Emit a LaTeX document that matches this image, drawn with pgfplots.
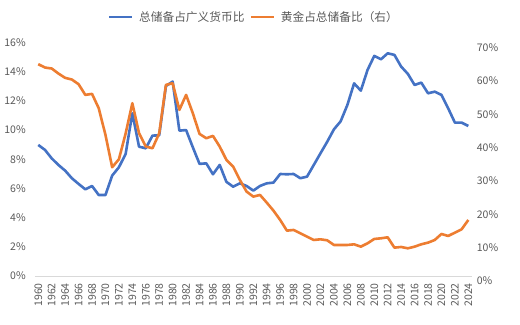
\documentclass[border=0pt]{standalone}
\usepackage{pgfplots}
\pgfplotsset{compat=1.18}
\usepackage{pgfplotstable}
\usepackage{fontspec}
\setmainfont{Noto Sans CJK SC}
\definecolor{cblue}{HTML}{4472C4}
\definecolor{corange}{HTML}{ED7D31}
\definecolor{ctext}{HTML}{595959}
\definecolor{cgrid}{HTML}{D9D9D9}

\pgfplotstableread{
year blue
1960 8.98
1961 8.64
1962 8.06
1963 7.61
1964 7.22
1965 6.70
1966 6.31
1967 5.94
1968 6.17
1969 5.55
1970 5.55
1971 6.88
1972 7.45
1973 8.36
1974 11.15
1975 8.86
1976 8.75
1977 9.62
1978 9.64
1979 13.02
1980 13.32
1981 9.96
1982 10.00
1983 8.82
1984 7.68
1985 7.72
1986 6.97
1987 7.61
1988 6.45
1989 6.12
1990 6.35
1991 6.17
1992 5.85
1993 6.17
1994 6.35
1995 6.40
1996 6.99
1997 6.97
1998 6.99
1999 6.70
2000 6.81
2001 7.61
2002 8.41
2003 9.20
2004 10.05
2005 10.60
2006 11.72
2007 13.20
2008 12.70
2009 14.12
2010 15.08
2011 14.85
2012 15.26
2013 15.15
2014 14.35
2015 13.85
2016 13.09
2017 13.25
2018 12.52
2019 12.63
2020 12.41
2021 11.49
2022 10.51
2023 10.51
2024 10.28
}\bluedata

\pgfplotstableread{
year gold
1960 63.5
1961 62.5
1962 62.2
1963 60.7
1964 59.4
1965 58.9
1966 57.5
1967 54.3
1968 54.6
1969 50.3
1970 42.3
1971 32.6
1972 35.0
1973 42.7
1974 51.8
1975 42.8
1976 38.8
1977 38.3
1978 42.8
1979 57.3
1980 57.8
1981 49.8
1982 54.3
1983 48.8
1984 42.6
1985 41.3
1986 42.0
1987 38.8
1988 34.8
1989 32.8
1990 28.8
1991 25.3
1992 23.8
1993 24.3
1994 22.0
1995 19.6
1996 16.8
1997 13.6
1998 13.8
1999 12.8
2000 11.8
2001 10.8
2002 11.0
2003 10.7
2004 9.3
2005 9.3
2006 9.3
2007 9.5
2008 8.8
2009 9.8
2010 11.1
2011 11.3
2012 11.6
2013 8.5
2014 8.7
2015 8.3
2016 8.8
2017 9.5
2018 10.0
2019 10.8
2020 12.6
2021 12.0
2022 13.0
2023 14.0
2024 16.8
}\golddata

\begin{document}
\begin{tikzpicture}
\useasboundingbox (-34.9bp,-49bp) rectangle (485.1bp,276bp);
\begin{axis}[
  at={(0,0)}, anchor=south west,
  scale only axis, width=436.8bp, height=233.5bp,
  xmin=1959.5, xmax=2024.5, ymin=0, ymax=16,
  axis x line*=bottom, axis y line*=left,
  x axis line style={draw=cgrid, line width=0.75bp},
  y axis line style={draw=none},
  major tick length=0pt, tick style={draw=none},
  xtick={1960,1962,...,2024},
  ytick={0,2,...,16},
  yticklabel={\pgfmathprintnumber{\tick}\%},
  /pgf/number format/assume math mode=true,
  /pgf/number format/1000 sep={},
  ticklabel style={font=\fontsize{10.5bp}{12bp}\selectfont, text=ctext},
  xticklabel style={yshift=-7bp, rotate=90, anchor=east, inner sep=0pt},
  yticklabel style={anchor=east, inner sep=0pt, xshift=-9bp},
  legend columns=2,
  legend style={at={(0.4989,1.109)}, anchor=center, draw=none, fill=none,
    inner sep=0pt, font=\fontsize{11.7bp}{13bp}\selectfont, text=ctext,
    nodes={inner sep=0pt},
    /tikz/every odd column/.append style={column sep=5.5bp},
    /tikz/every even column/.append style={column sep=5bp}},
  legend image code/.code={\draw[#1] (0bp,0bp) -- (23.3bp,0bp);},
]
\addplot[cblue, line width=2.6bp, line join=round] table[x=year, y=blue] {\bluedata};
\addlegendentry{总储备占广义货币比}
\addlegendimage{corange, line width=2.6bp}
\addlegendentry{黄金占总储备比（右）}
\end{axis}
\begin{axis}[
  at={(0,0)}, anchor=south west,
  scale only axis, width=436.8bp, height=233.5bp,
  xmin=1959.5, xmax=2024.5, ymin=0, ymax=70,
  axis y line*=right, axis x line=none,
  y axis line style={draw=none},
  major tick length=0pt, tick style={draw=none},
  ytick={0,10,...,70},
  yticklabel={\pgfmathprintnumber{\tick}\%},
  /pgf/number format/assume math mode=true,
  ticklabel style={font=\fontsize{10.5bp}{12bp}\selectfont, text=ctext},
  yticklabel style={anchor=west, inner sep=0pt, xshift=5bp, yshift=-5bp},
]
\addplot[corange, line width=2.6bp, line join=round] table[x=year, y=gold] {\golddata};
\end{axis}
\end{tikzpicture}
\end{document}
